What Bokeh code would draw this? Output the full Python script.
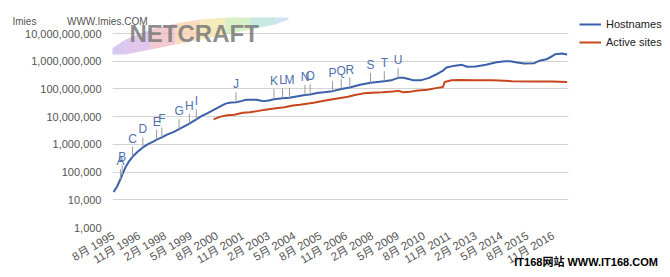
import math
from bokeh.plotting import figure
from bokeh.models import (Range1d, FixedTicker, NumeralTickFormatter, Legend, LegendItem,
                          ColumnDataSource, Label, PolyAnnotation, BoxAnnotation, Title,
                          LinearAxis)
from bokeh.core.properties import value
from bokeh.embed import file_html
from bokeh.resources import INLINE

# x = survey month counted from August 1995 (0 = 8月 1995)
host_month = [0, 2, 4, 5, 7, 9, 11, 14, 17, 20, 23, 25, 28, 31, 35, 38, 41, 44, 48, 51, 54, 57,
              60, 63, 65, 68, 71, 74, 77, 80, 83, 85, 87, 90, 93, 98, 102, 106, 111, 114, 118,
              122, 127, 132, 137, 143, 149, 153, 157, 161, 165, 168, 171, 174, 178, 183, 187,
              191, 193, 198, 202, 205, 210, 216, 222, 227, 230, 234, 238, 244, 247, 251, 254,
              256, 260, 263]
host_value = [19000, 29500, 55000, 79000, 151000, 245000, 355000, 537000, 776000, 1020000,
              1260000, 1480000, 1780000, 2240000, 2820000, 3550000, 4470000, 5620000, 7940000,
              10500000, 12900000, 16200000, 20400000, 25700000, 29500000, 32400000, 33100000,
              36300000, 40700000, 40700000, 40700000, 38000000, 36300000, 38000000, 42700000,
              45700000, 47900000, 53700000, 60300000, 63100000, 70800000, 75900000, 83200000,
              100000000, 112000000, 141000000, 166000000, 178000000, 191000000, 204000000,
              251000000, 251000000, 229000000, 204000000, 204000000, 251000000, 331000000,
              457000000, 589000000, 692000000, 741000000, 631000000, 646000000, 741000000,
              912000000, 1000000000, 1000000000, 891000000, 832000000, 851000000, 1047000000,
              1175000000, 1479000000, 1778000000, 1905000000, 1738000000]

active_month = [58, 62, 66, 70, 75, 79, 83, 89, 93, 99, 104, 108, 116, 122, 128, 136, 140, 145,
                150, 156, 162, 165, 168, 172, 175, 182, 187, 191, 192, 196, 200, 210, 220, 231,
                245, 254, 263]
active_value = [7940000, 10000000, 11200000, 11700000, 13800000, 14500000, 15800000, 18200000,
                19500000, 21900000, 25100000, 26900000, 31600000, 37200000, 43700000, 52500000,
                60300000, 69200000, 72400000, 75900000, 81300000, 85100000, 75900000, 79400000,
                85100000, 93300000, 107000000, 117000000, 178000000, 204000000, 209000000,
                204000000, 204000000, 191000000, 186000000, 186000000, 178000000]

annot_labels = list("ABCDEFGHIJKLMNOPQRSTU")
annot_month = [4, 5, 11, 17, 25, 28, 38, 44, 48, 71, 93, 98, 102, 111, 114, 127, 132, 137, 149,
               157, 165]

x_tick_month = [0, 15, 30, 45, 60, 75, 90, 105, 120, 135, 150, 165, 180, 195, 210, 225, 240, 255]
x_tick_labels = ["8月 1995", "11月 1996", "2月 1998", "5月 1999", "8月 2000", "11月 2001",
                 "2月 2003", "5月 2004", "8月 2005", "11月 2006", "2月 2008", "5月 2009",
                 "8月 2010", "11月 2011", "2月 2013", "5月 2014", "8月 2015", "11月 2016"]
y_ticks = [1e3, 1e4, 1e5, 1e6, 1e7, 1e8, 1e9, 1e10]
series_names = ["Hostnames", "Active sites"]

BLUE = "#3a60aa"
ORANGE = "#c8461c"
FONT = "Liberation Sans"
FONT_CJK = "Liberation Sans, Noto Sans CJK SC"

W, H = 670, 277
FL, FB = 112, 227          # frame left / bottom (canvas px)
FT = 17                    # frame top (canvas px), extended above the chart area
PLOT_TOP, PLOT_RIGHT = 33, 568   # visible chart area (gridline extent)
X0, X1 = -0.6, 263.8             # month range of the visible chart area
Y0, Y1 = 1e3, 1e10               # value range of the visible chart area

px_per_month = (PLOT_RIGHT - FL) / (X1 - X0)
px_per_decade = (FB - PLOT_TOP) / math.log10(Y1 / Y0)
x_end = X0 + (W - FL) / px_per_month
y_end = Y1 * 10 ** ((PLOT_TOP - FT) / px_per_decade)

p = figure(width=W, height=H, x_range=Range1d(X0, x_end), y_range=Range1d(Y0, y_end),
           y_axis_type="log", output_backend="svg", toolbar_location=None,
           min_border_left=FL, min_border_right=0, min_border_top=FT,
           min_border_bottom=H - FB)
p.outline_line_color = None
p.background_fill_color = "white"
p.border_fill_color = "white"

xa = p.xaxis[0]
xa.ticker = FixedTicker(ticks=x_tick_month)
xa.major_label_overrides = {m: lab for m, lab in zip(x_tick_month, x_tick_labels)}
xa.major_label_orientation = math.pi / 6
xa.axis_line_color = None
xa.major_tick_line_color = None
xa.minor_tick_line_color = None
xa.major_tick_out = 0
xa.major_tick_in = 0
xa.major_label_standoff = 7
xa.major_label_text_font = FONT_CJK
xa.major_label_text_font_size = "11.5px"
xa.major_label_text_color = "#555555"

ya = p.yaxis[0]
ya.ticker = FixedTicker(ticks=y_ticks)
ya.formatter = NumeralTickFormatter(format="0,0")
ya.axis_line_color = None
ya.major_tick_line_color = None
ya.minor_tick_line_color = None
ya.major_tick_out = 0
ya.major_tick_in = 0
ya.major_label_standoff = 11
ya.major_label_text_font = FONT
ya.major_label_text_font_size = "11px"
ya.major_label_text_color = "#555555"

p.xgrid.grid_line_color = None
p.ygrid.grid_line_color = "#d4d4d4"
p.ygrid.grid_line_width = 1
# hide the gridlines to the right of the chart area (legend area)
p.add_layout(BoxAnnotation(left=X1, fill_color="white", fill_alpha=1, line_color=None,
                           level="underlay"))

def sx(cx):
    return cx - FL

def sy(cy):
    return FB - cy

# Netcraft logo watermark
sw_x = [107, 125, 150, 175, 200, 225, 250, 275, 288]
sw_up = [51, 39, 29, 23, 19, 17, 16, 16, 17]
sw_lo = [54, 54, 49, 44, 39, 34, 29, 24, 19]
sw_col = ["#c4b2ea", "#d4aee2", "#eeb2bc", "#f6cca4", "#f2e2a0", "#c6eaae", "#aee0d4", "#bcd8f4"]
for i in range(len(sw_col)):
    p.add_layout(PolyAnnotation(
        xs=[sx(sw_x[i]), sx(sw_x[i + 1]), sx(sw_x[i + 1]), sx(sw_x[i])],
        ys=[sy(sw_up[i]), sy(sw_up[i + 1]), sy(sw_lo[i + 1]), sy(sw_lo[i])],
        xs_units="screen", ys_units="screen", fill_color=sw_col[i], fill_alpha=0.7,
        line_color=None))
p.add_layout(Label(x=sx(129), y=sy(33), x_units="screen", y_units="screen", text="NETCRAFT",
                   text_font=FONT, text_font_size="24px", text_font_style="bold",
                   text_color="#7a7a7a", text_alpha=0.85, text_baseline="middle"))

r_host = p.line(host_month, host_value, line_color=BLUE, line_width=2)
r_act = p.line(active_month, active_value, line_color=ORANGE, line_width=2)

# annotation stems of fixed pixel length above the hostnames line
host_lookup = dict(zip(host_month, host_value))
annot_value = [host_lookup[m] for m in annot_month]
stem_px = 10
stem_top = [v * 10 ** (stem_px / px_per_decade) for v in annot_value]
src = ColumnDataSource(dict(x=annot_month, y=annot_value, y2=stem_top, t=annot_labels))
p.segment(x0="x", y0="y", x1="x", y1="y2", source=src, line_color="#9a9a9a", line_width=1)
p.text(x="x", y="y2", text="t", source=src, text_align="center", text_baseline="bottom",
       y_offset=-1, text_font=value(FONT), text_font_size="12px", text_color="#4f6fae")

legend = Legend(items=[LegendItem(label=series_names[0], renderers=[r_host]),
                       LegendItem(label=series_names[1], renderers=[r_act])],
                location=(sx(579), sy(51)), orientation="vertical",
                padding=0, margin=0, spacing=0, glyph_width=22, glyph_height=18,
                label_height=18, label_standoff=5, border_line_color=None,
                background_fill_alpha=0, label_text_font=FONT, label_text_font_size="11px",
                label_text_color="#222222")
p.add_layout(legend)

# site watermarks
p.add_layout(Title(text="Imies" + "\u00a0" * 11 + "WWW.Imies.COM", align="left", offset=12 - FL,
                   standoff=-18, text_font=FONT, text_font_size="10px",
                   text_font_style="normal", text_color="#555555"), "above")

wm_bottom = "IT168网站\u00a0WWW.IT168.COM"
wm_tick = round(X0 + (586 - FL) / px_per_month)   # horizontal centre of the watermark
wa = LinearAxis(ticker=FixedTicker(ticks=[wm_tick]), major_label_overrides={wm_tick: wm_bottom},
                axis_line_color=None, major_tick_line_color=None, minor_tick_line_color=None,
                major_tick_out=0, major_tick_in=0, major_label_standoff=-19,
                major_label_orientation="horizontal", major_label_text_font=FONT_CJK,
                major_label_text_font_size="11px", major_label_text_font_style="bold",
                major_label_text_color="#000000")
p.add_layout(wa, "below")

open("out.html", "w").write(file_html(p, INLINE))
